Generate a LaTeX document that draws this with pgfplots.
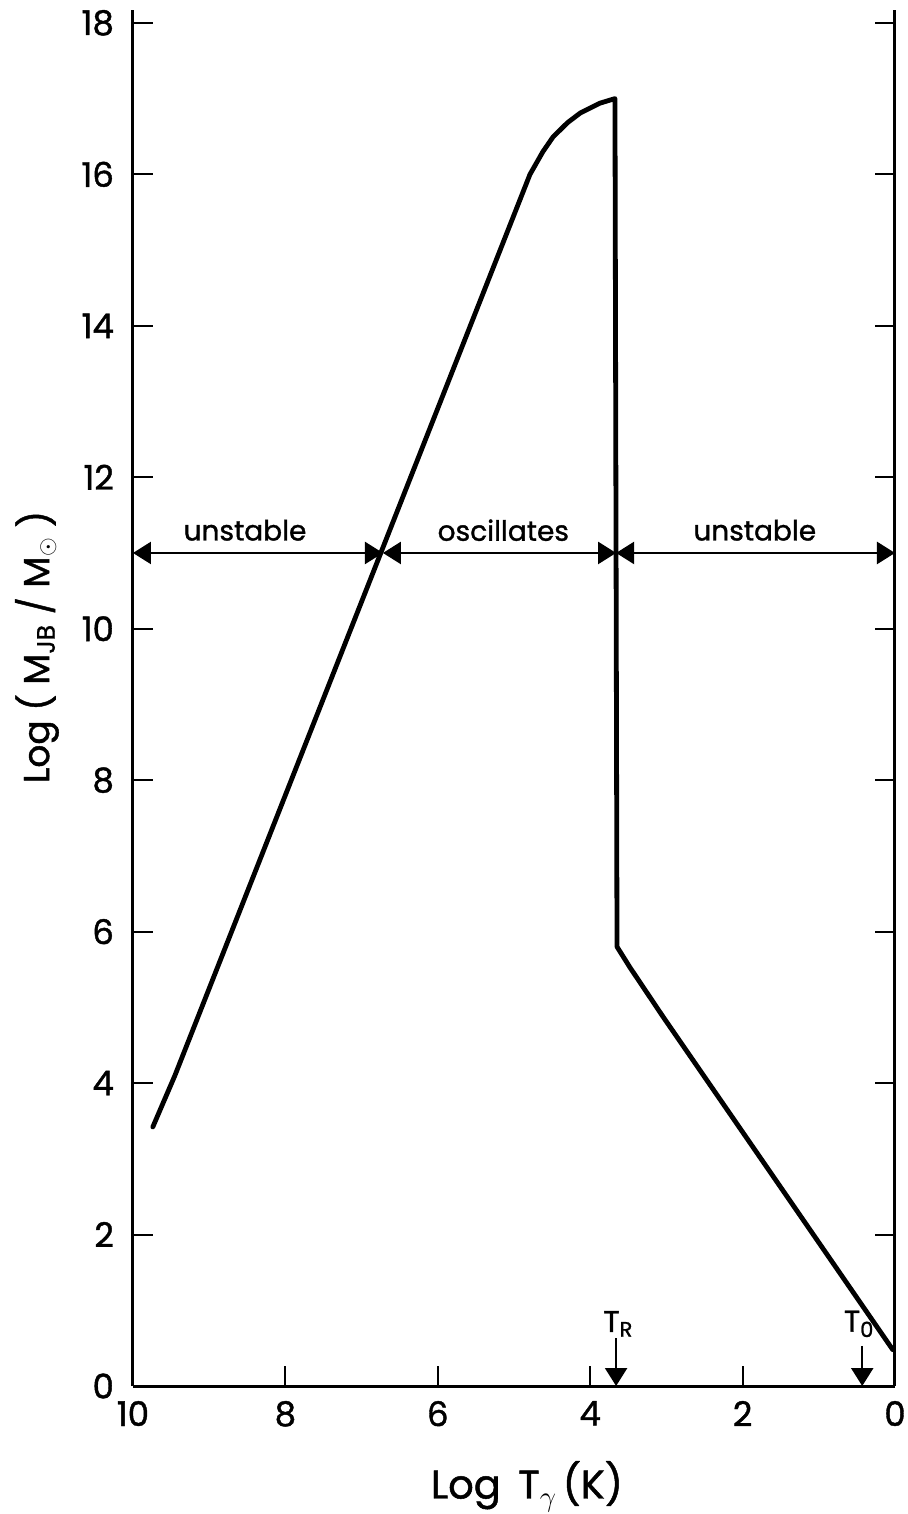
\documentclass[border=0pt]{standalone}
\usepackage{fontspec}
\setmainfont{Poppins}[FakeBold=1.2]
\usepackage{pgfplots}
\pgfplotsset{compat=1.18}
\usetikzlibrary{arrows.meta}
\begin{document}
\begin{tikzpicture}
\begin{axis}[
  scale only axis, width=381pt, height=688pt,
  xmin=0, xmax=10, x dir=reverse,
  ymin=0, ymax=18.17,
  axis x line=bottom, axis y line=box,
  axis line style={-, line width=1.5pt},
  xtick={0,2,4,6,8,10}, ytick={0,2,...,18},
  tick align=inside, major tick length=10pt,
  xtick pos=bottom, ytick pos=both,
  major tick style={line width=1pt, black},
  /pgf/number format/assume math mode=true,
  ticklabel style={font=\fontsize{17}{20}\selectfont},
  yticklabel style={xshift=-6pt},
  xticklabel style={yshift=-4pt},
  xlabel={Log\, T\raisebox{-0.35ex}{$\scriptstyle\gamma$}\,(K)},
  ylabel={Log ( M\textsubscript{JB} / M$_{\odot}$ )},
  xlabel style={font=\fontsize{20}{24}\selectfont, at={(axis description cs:0.517,-0.073)}, anchor=center},
  ylabel style={font=\fontsize{18}{22}\selectfont, at={(axis description cs:-0.126,0.537)}, anchor=center, rotate=0},
  clip=false,
]
\addplot[black, line width=2.4pt, line join=round, line cap=round] coordinates {
(9.74,3.42) (9.45,4.10) (4.79,16.0) (4.62,16.30) (4.49,16.49) (4.30,16.68) (4.13,16.81) (3.87,16.94) (3.675,17.0)
(3.648,5.80) (3.48,5.53) (3.04,4.87) (0.03,0.48)
};
\addplot[black, line width=1.2pt, {Triangle[length=9pt,width=11pt]}-{Triangle[length=9pt,width=11pt]}] coordinates {(10,11) (6.72,11)};
\addplot[black, line width=1.2pt, {Triangle[length=9pt,width=11pt]}-{Triangle[length=9pt,width=11pt]}] coordinates {(6.72,11) (3.66,11)};
\addplot[black, line width=1.2pt, {Triangle[length=9pt,width=11pt]}-{Triangle[length=9pt,width=11pt]}] coordinates {(3.66,11) (0,11)};
\addplot[black, line width=1.2pt, -{Triangle[length=9pt,width=11pt]}] coordinates {(3.66,0.63) (3.66,0)};
\addplot[black, line width=1.2pt, -{Triangle[length=9pt,width=11pt]}] coordinates {(0.43,0.53) (0.43,0)};
\node[font=\fontsize{14}{16}\selectfont] at (axis cs:8.53,11.3) {unstable};
\node[font=\fontsize{14}{16}\selectfont] at (axis cs:5.14,11.3) {oscillates};
\node[font=\fontsize{14}{16}\selectfont] at (axis cs:1.84,11.3) {unstable};
\node[font=\fontsize{15}{17}\selectfont] at (axis cs:3.63,0.82) {T\textsubscript{R}};
\node[font=\fontsize{15}{17}\selectfont] at (axis cs:0.47,0.82) {T\textsubscript{0}};
\end{axis}
\pgfresetboundingbox
\path (current axis.south west) ++(-66.5pt,-64pt) rectangle ++(453.5pt,757pt);
\end{tikzpicture}
\end{document}
